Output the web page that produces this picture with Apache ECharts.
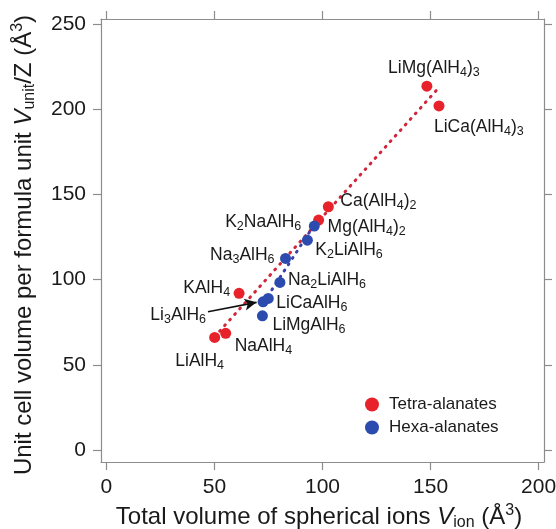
<!DOCTYPE html>
<html><head><meta charset="utf-8">
<script src="https://cdn.jsdelivr.net/npm/echarts@6/dist/echarts.min.js"></script>
<style>html,body{margin:0;padding:0;background:#fff}#c{width:556px;height:529px}</style>
</head><body><div id="c"></div>
<script>
// ---- data ----
const tetraNames = ['LiAlH4','NaAlH4','KAlH4','Mg(AlH4)2','Ca(AlH4)2','LiMg(AlH4)3','LiCa(AlH4)3'];
const tetraX = [50.1, 55.2, 61.4, 98.2, 102.7, 148.3, 153.9];
const tetraY = [66.1, 68.5, 92.0, 135.0, 142.8, 213.6, 202.0];
const hexaNames = ['Li3AlH6','LiCaAlH6','LiMgAlH6','Na2LiAlH6','Na3AlH6','K2LiAlH6','K2NaAlH6'];
const hexaX = [72.5, 74.9, 72.2, 80.3, 82.9, 93.0, 96.2];
const hexaY = [87.0, 89.0, 78.8, 98.4, 112.5, 123.2, 131.5];
const redFitX = [52.4, 153.6];
const redFitY = [69.8, 212.4];
const blueFitX = [74.7, 97.0];
const blueFitY = [90.4, 133.8];
const arrowFrom = [47.0, 81.2];
const arrowTo = [69.5, 86.7];
const xTicks = [0, 50, 100, 150, 200];
const yTicks = [0, 50, 100, 150, 200, 250];
const legendNames = ['Tetra-alanates', 'Hexa-alanates'];

// ---- styling ----
const FONT = 'Liberation Sans, Arial, Helvetica, sans-serif';
const RED = '#e8222a', BLUE = '#2c4bae', AXIS = '#8c8c8c', TXT = '#1a1a1a';
const labelPlace = {
  'LiMg(AlH4)3': ['center', 7, -18],
  'LiCa(AlH4)3': ['left', -5, 21],
  'Ca(AlH4)2': ['left', 12, -6],
  'Mg(AlH4)2': ['left', 9, 7],
  'K2NaAlH6': ['right', -13, -4],
  'K2LiAlH6': ['left', 8, 10],
  'Na3AlH6': ['right', -11, -3],
  'Na2LiAlH6': ['left', 8, -2],
  'KAlH4': ['right', -9, -5],
  'LiCaAlH6': ['left', 8, 5],
  'Li3AlH6': ['right', -57, 13],
  'LiMgAlH6': ['left', 10, 9],
  'NaAlH4': ['left', 9, 13],
  'LiAlH4': ['center', -15, 24]
};
const labelRich = {
  s: {fontSize: 12.5, fontFamily: FONT, color: TXT, padding: [9, 0, 0, 0]}
};
function pts(names, xs, ys) {
  return names.map((n, i) => {
    const p = labelPlace[n];
    return {
      name: n, value: [xs[i], ys[i]],
      label: {show: true, position: 'inside', align: p[0], verticalAlign: 'middle', offset: [p[1], p[2]]}
    };
  });
}
const fmt = p => p.name.replace(/(\d+)/g, '{s|$1}');
const baseLabel = {color: TXT, fontSize: 17.5, fontFamily: FONT, textBorderWidth: 0, formatter: fmt, rich: labelRich};
const nameRich = {
  i: {fontSize: 24, fontStyle: 'italic', fontFamily: FONT, color: TXT},
  s: {fontSize: 16, fontFamily: FONT, color: TXT, padding: [12, 0, 0, 0]},
  p: {fontSize: 16, fontFamily: FONT, color: TXT, padding: [0, 0, 12, 0]}
};
function axis(pos, min, max, ticks, labels, name, gap, pad) {
  return {
    type: 'value', position: pos, min: min, max: max,
    axisLine: {show: true, onZero: false, lineStyle: {color: AXIS, width: 1.2}},
    axisTick: {show: true, inside: false, length: 8, customValues: ticks, lineStyle: {color: AXIS, width: 1.2}},
    axisLabel: labels ? {show: true, customValues: ticks, fontSize: 21, color: TXT, fontFamily: FONT, margin: 15} : {show: false},
    splitLine: {show: false},
    name: name || '', nameLocation: 'middle', nameGap: gap || 0,
    nameTextStyle: {fontSize: 24, color: TXT, fontFamily: FONT, rich: nameRich, padding: pad || 0}
  };
}
const chart = echarts.init(document.getElementById('c'), null, {renderer: 'canvas'});
chart.setOption({
  backgroundColor: '#ffffff',
  animation: false,
  grid: {left: 101, right: 12, top: 19, bottom: 67, containLabel: false, outerBoundsMode: 'none'},
  xAxis: [
    axis('bottom', -2.5, 202.5, xTicks, true, 'Total volume of spherical ions {i|V}{s|ion} (Å{p|3})', 40, [0, 7, 0, 0]),
    axis('top', -2.5, 202.5, xTicks, false)
  ],
  yAxis: [
    axis('left', -7, 253, yTicks, true, 'Unit cell volume per formula unit {i|V}{s|unit}/Z (Å{p|3})', 63, [0, 9, 0, 0]),
    axis('right', -7, 253, yTicks, false)
  ],
  legend: {
    data: legendNames, orient: 'vertical', left: 360, top: 391, icon: 'circle',
    itemWidth: 24, itemHeight: 14, itemGap: 6,
    textStyle: {fontSize: 17, color: TXT, fontFamily: FONT}
  },
  series: [
    {type: 'line', z: 1, silent: true, symbol: 'none', data: redFitX.map((x, i) => [x, redFitY[i]]),
      lineStyle: {color: '#d0263c', width: 3, type: [1, 6.5], cap: 'round'}},
    {type: 'line', z: 1, silent: true, symbol: 'none', data: blueFitX.map((x, i) => [x, blueFitY[i]]),
      lineStyle: {color: '#3a3fae', width: 3, type: [1, 6.5], cap: 'round'},
      markLine: {silent: true, symbol: ['none', 'arrow'], symbolSize: [9, 12], label: {show: false},
        lineStyle: {color: '#111', width: 1.6, type: 'solid'},
        data: [[{coord: arrowFrom}, {coord: arrowTo}]]}},
    {name: legendNames[0], type: 'scatter', z: 3, symbolSize: 11, itemStyle: {color: RED, opacity: 1},
      label: baseLabel, data: pts(tetraNames, tetraX, tetraY)},
    {name: legendNames[1], type: 'scatter', z: 3, symbolSize: 11, itemStyle: {color: BLUE, opacity: 1},
      label: baseLabel, data: pts(hexaNames, hexaX, hexaY)}
  ]
});
</script></body></html>
